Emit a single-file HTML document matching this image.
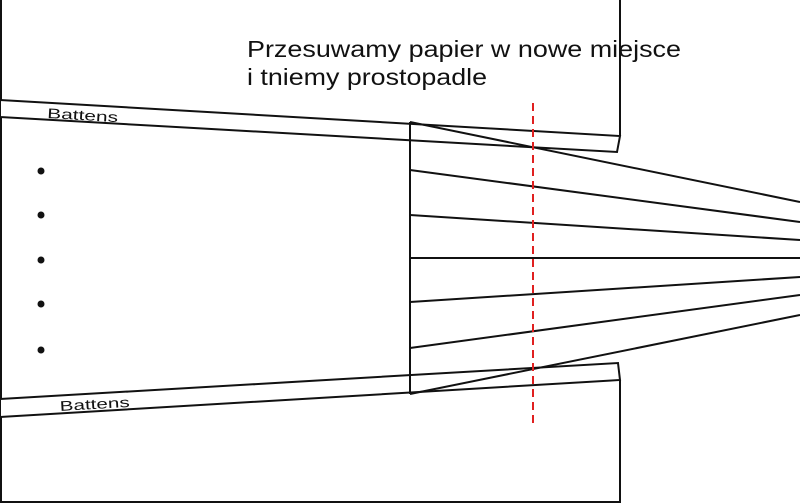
<!DOCTYPE html>
<html><head><style>body{margin:0;background:#fff}svg{display:block}</style></head><body>
<svg width="800" height="504" viewBox="0 0 800 504" xmlns="http://www.w3.org/2000/svg">
<g font-family="Liberation Sans, sans-serif" fill="#111">
<text x="247" y="57" font-size="23" textLength="434" lengthAdjust="spacingAndGlyphs">Przesuwamy papier w nowe miejsce</text>
<text x="247" y="85" font-size="23" textLength="240" lengthAdjust="spacingAndGlyphs">i tniemy prostopadle</text>
</g>
<g stroke="#111" stroke-width="2" fill="none">
<polyline points="1,0 1,502 620,502 620,380"/>
<line x1="620" y1="0" x2="620" y2="136"/>
<polygon points="0,100 620,136 617,152 0,117" fill="#fff"/>
<polygon points="0,399 618,363 620,380 0,417" fill="#fff"/>
<line x1="410" y1="122" x2="410" y2="394"/>
<line x1="410" y1="122" x2="800" y2="202"/>
<line x1="410" y1="170" x2="800" y2="222"/>
<line x1="410" y1="215" x2="800" y2="240"/>
<line x1="410" y1="258" x2="800" y2="258"/>
<line x1="410" y1="302" x2="800" y2="277"/>
<line x1="410" y1="348" x2="800" y2="295"/>
<line x1="410" y1="394" x2="800" y2="315"/>
</g>
<line x1="533" y1="103" x2="533" y2="428" stroke="#e02020" stroke-width="2" stroke-dasharray="8,5"/>
<g fill="#111">
<circle cx="41" cy="171" r="3.5"/><circle cx="41" cy="215" r="3.5"/><circle cx="41" cy="260" r="3.5"/><circle cx="41" cy="304" r="3.5"/><circle cx="41" cy="350" r="3.5"/>
</g>
<g font-family="Liberation Sans, sans-serif" fill="#111">
<text x="47" y="118" font-size="14" textLength="71" lengthAdjust="spacingAndGlyphs" transform="rotate(3.3 47 118)">Battens</text>
<text x="60" y="411" font-size="14" textLength="70" lengthAdjust="spacingAndGlyphs" transform="rotate(-3.4 60 411)">Battens</text>
</g>
</svg>
</body></html>
